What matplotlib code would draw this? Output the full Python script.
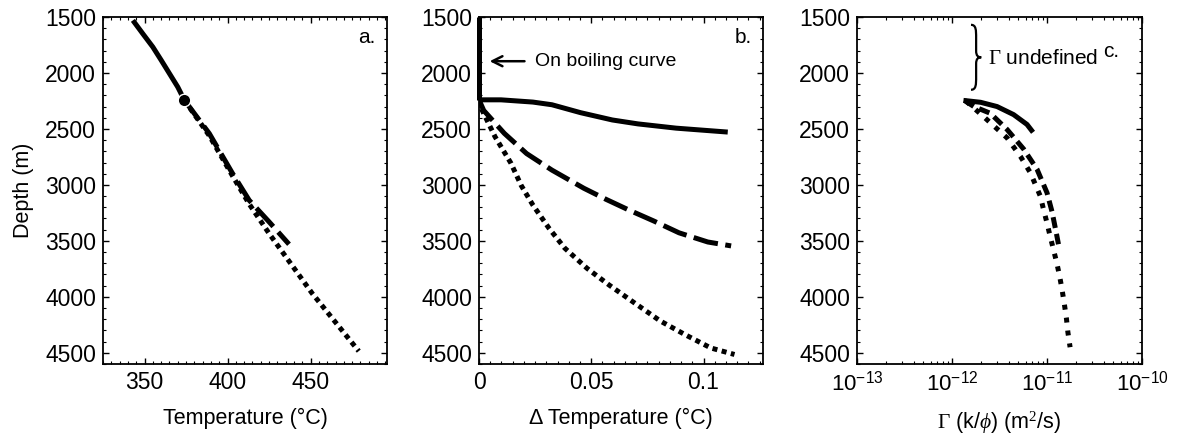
import matplotlib
matplotlib.use("Agg")
import matplotlib.pyplot as plt
from matplotlib.ticker import AutoMinorLocator, MultipleLocator, LogLocator, NullFormatter
from matplotlib.path import Path
from matplotlib.patches import PathPatch
import matplotlib.transforms as mtransforms

plt.rcParams['font.family'] = ['Liberation Sans', 'DejaVu Sans']
plt.rcParams['mathtext.fontset'] = 'custom'
plt.rcParams['mathtext.rm'] = 'Liberation Serif'
plt.rcParams['mathtext.it'] = 'Liberation Serif:italic'
plt.rcParams['mathtext.sf'] = 'Liberation Sans'
plt.rcParams['axes.unicode_minus'] = False

# panel a: temperature vs depth
a_solid_T = [343, 349, 355, 360, 365, 370, 374]
a_solid_D = [1530, 1650, 1768, 1885, 2005, 2125, 2243]
a_dash_T = [374, 389, 403, 413, 425, 437]
a_dash_D = [2243, 2541, 2898, 3137, 3330, 3530]
a_dot_T = [374, 389, 403, 413, 425, 451, 479]
a_dot_D = [2243, 2560, 2920, 3170, 3434, 3970, 4485]
a_point = (374, 2243)

# panel b: delta temperature vs depth
b_boil_D = [1500, 2240]
b_solid_dT = [0.0, 0.0098, 0.024, 0.0325, 0.0453, 0.0594, 0.0708, 0.0878, 0.1055, 0.1108]
b_solid_D = [2240, 2240, 2260, 2284, 2355, 2420, 2455, 2493, 2520, 2528]
b_dash_dT = [0.0, 0.0021, 0.0113, 0.0212, 0.0325, 0.0467, 0.0567, 0.0665, 0.0778, 0.0891, 0.1019, 0.1123]
b_dash_D = [2240, 2335, 2540, 2720, 2868, 3030, 3130, 3222, 3322, 3428, 3510, 3545]
b_dot_dT = [0.0, 0.0014, 0.0071, 0.0142, 0.0188, 0.0240, 0.0311, 0.0382, 0.0481, 0.0580, 0.0693, 0.0807, 0.0920, 0.1033, 0.1138]
b_dot_D = [2240, 2333, 2568, 2805, 3005, 3180, 3385, 3565, 3745, 3895, 4055, 4215, 4340, 4457, 4515]

# panel c: Gamma vs depth
c_ticks = [1e-13, 1e-12, 1e-11, 1e-10]
c_ticklabels = [r'10$^{\mathsf{-13}}$', r'10$^{\mathsf{-12}}$', r'10$^{\mathsf{-11}}$', r'10$^{\mathsf{-10}}$']
c_solid_G = [1.32e-12, 2.0e-12, 2.98e-12, 4.45e-12, 6.16e-12, 7.13e-12]
c_solid_D = [2245, 2262, 2300, 2372, 2460, 2530]
c_dash_G = [1.35e-12, 1.7e-12, 2.53e-12, 3.8e-12, 5.68e-12, 7.85e-12, 1.0e-11, 1.13e-11, 1.27e-11, 1.32e-11]
c_dash_D = [2245, 2300, 2360, 2505, 2680, 2860, 3070, 3240, 3455, 3530]
c_dot_G = [1.4e-12, 2.15e-12, 3.8e-12, 5.25e-12, 6.67e-12, 8.5e-12, 9.2e-12, 1.0e-11, 1.08e-11, 1.17e-11,
           1.27e-11, 1.36e-11, 1.44e-11, 1.52e-11, 1.6e-11, 1.66e-11, 1.75e-11]
c_dot_D = [2250, 2390, 2580, 2745, 2890, 3100, 3220, 3340, 3460, 3578, 3700, 3818, 3935, 4060, 4190, 4318, 4450]

fig = plt.figure(figsize=(11.77, 4.47), dpi=100)
W, H = 1177, 447
ax_a = fig.add_axes([103 / W, 1 - 364 / H, 284 / W, 347 / H])
ax_b = fig.add_axes([479 / W, 1 - 364 / H, 284 / W, 347 / H])
ax_c = fig.add_axes([857 / W, 1 - 364 / H, 285 / W, 347 / H])

lw = 3.6
dash = (5, 1.5)
dot = (1, 0.9)

for ax in (ax_a, ax_b, ax_c):
    ax.set_ylim(4600, 1500)
    ax.yaxis.set_major_locator(MultipleLocator(500))
    ax.yaxis.set_minor_locator(AutoMinorLocator(5))
    ax.tick_params(which='both', direction='in', top=True, right=True, labelsize=16.5, pad=5)
    ax.tick_params(which='major', length=4, width=1)
    ax.tick_params(which='minor', length=2, width=0.8)
    for s in ax.spines.values():
        s.set_linewidth(1.3)

# a
ax_a.plot(a_dot_T, a_dot_D, color='black', lw=lw, dashes=dot, dash_capstyle='butt')
ax_a.plot(a_dash_T, a_dash_D, color='black', lw=lw, dashes=dash, dash_capstyle='butt')
ax_a.plot(a_solid_T, a_solid_D, color='black', lw=lw, solid_capstyle='butt')
ax_a.plot([a_point[0]], [a_point[1]], 'o', color='black', ms=9, mec='white', mew=1)
ax_a.set_xlim(325, 496)
ax_a.xaxis.set_major_locator(MultipleLocator(50))
ax_a.xaxis.set_minor_locator(AutoMinorLocator(10))
ax_a.set_xlabel('Temperature (°C)', fontsize=15.5, labelpad=10)
ax_a.set_ylabel('Depth (m)', fontsize=15.5, labelpad=8)
ax_a.text(0.96, 0.94, 'a.', transform=ax_a.transAxes, ha='right', va='center', fontsize=15)

# b
ax_b.plot([0, 0], b_boil_D, color='black', lw=lw, solid_capstyle='butt', clip_on=False)
ax_b.plot(b_solid_dT, b_solid_D, color='black', lw=lw, solid_capstyle='butt')
ax_b.plot(b_dash_dT, b_dash_D, color='black', lw=lw, dashes=dash, dash_capstyle='butt')
ax_b.plot(b_dot_dT, b_dot_D, color='black', lw=lw, dashes=dot, dash_capstyle='butt')
ax_b.set_xlim(0, 0.1265)
ax_b.set_xticks([0, 0.05, 0.1])
ax_b.set_xticklabels(['0', '0.05', '0.1'])
ax_b.xaxis.set_minor_locator(MultipleLocator(0.005))
ax_b.set_xlabel('Δ Temperature (°C)', fontsize=15.5, labelpad=10)
ax_b.annotate('', xy=(0.0035, 1895), xytext=(0.0215, 1895),
              arrowprops=dict(arrowstyle='->', color='black', lw=1.8, mutation_scale=18))
ax_b.text(0.025, 1895, 'On boiling curve', fontsize=14, ha='left', va='center')
ax_b.text(0.96, 0.94, 'b.', transform=ax_b.transAxes, ha='right', va='center', fontsize=15)

# c
ax_c.plot(c_solid_G, c_solid_D, color='black', lw=lw, solid_capstyle='butt')
ax_c.plot(c_dash_G, c_dash_D, color='black', lw=lw, dashes=(2.2, 1.2), dash_capstyle='butt')
ax_c.plot(c_dot_G, c_dot_D, color='black', lw=lw, dashes=(1, 1.6), dash_capstyle='butt')
ax_c.set_xscale('log')
ax_c.set_xlim(1e-13, 1e-10)
ax_c.set_xticks(c_ticks)
ax_c.set_xticklabels(c_ticklabels)
ax_c.xaxis.set_minor_locator(LogLocator(base=10, subs=range(2, 10), numticks=10))
ax_c.xaxis.set_minor_formatter(NullFormatter())
ax_c.tick_params(axis='x', which='major', labelsize=16)
ax_c.set_xlabel(r'$\Gamma$ (k/$\phi$) (m$^2$/s)', fontsize=15.5, labelpad=10)
ax_c.text(0.92, 0.9, 'c.', transform=ax_c.transAxes, ha='right', va='center', fontsize=15)

# brace for "undefined"
tr = mtransforms.blended_transform_factory(ax_c.transAxes, ax_c.transData)
x0, w = 0.40, 0.036
y0, y1 = 1570, 2150
ym = (y0 + y1) / 2
Hh = y1 - y0
verts = [(x0, y0),
         (x0 + 0.5 * w, y0), (x0 + 0.5 * w, y0 + 0.08 * Hh), (x0 + 0.5 * w, y0 + 0.2 * Hh),
         (x0 + 0.5 * w, ym - 0.1 * Hh),
         (x0 + 0.5 * w, ym - 0.02 * Hh), (x0 + 0.7 * w, ym), (x0 + w, ym),
         (x0 + 0.7 * w, ym), (x0 + 0.5 * w, ym + 0.02 * Hh), (x0 + 0.5 * w, ym + 0.1 * Hh),
         (x0 + 0.5 * w, y1 - 0.2 * Hh),
         (x0 + 0.5 * w, y1 - 0.08 * Hh), (x0 + 0.5 * w, y1), (x0, y1)]
codes = [Path.MOVETO, Path.CURVE4, Path.CURVE4, Path.CURVE4, Path.LINETO,
         Path.CURVE4, Path.CURVE4, Path.CURVE4, Path.CURVE4, Path.CURVE4, Path.CURVE4,
         Path.LINETO, Path.CURVE4, Path.CURVE4, Path.CURVE4]
ax_c.add_patch(PathPatch(Path(verts, codes), transform=tr, facecolor='none', edgecolor='black', lw=1.6))
ax_c.text(x0 + w + 0.025, 1870, r'$\Gamma$ undefined', transform=tr, fontsize=15, ha='left', va='center')

fig.savefig('out.png', dpi=100)
